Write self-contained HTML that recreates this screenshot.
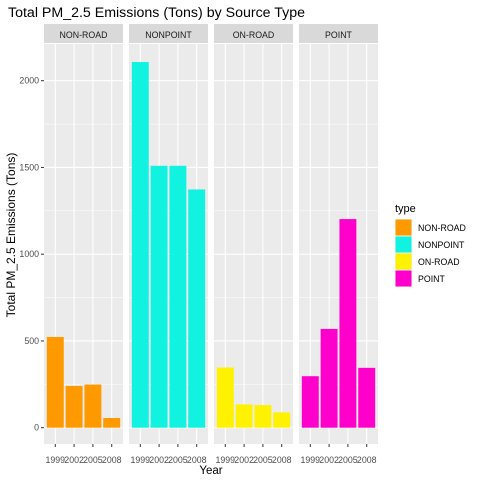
<!DOCTYPE html>
<html><head><meta charset="utf-8"><style>
body{margin:0;background:#fff;}
svg{display:block;font-family:"Liberation Sans",Arial,sans-serif;}
</style></head><body>
<svg id="chart" width="480" height="480" viewBox="0 0 480 480">
<text x="8" y="17" font-size="14.2" fill="#000">Total PM_2.5 Emissions (Tons) by Source Type</text>
<text transform="translate(15,235) rotate(-90)" text-anchor="middle" font-size="12" fill="#000">Total PM_2.5 Emissions (Tons)</text>
<text x="211" y="474" text-anchor="middle" font-size="11.5" fill="#000">Year</text>
<g id="panels"></g>
<g id="legend">
<text x="395" y="212" font-size="11" fill="#000">type</text>
</g>
</svg>
<script>
const facets = ["NON-ROAD","NONPOINT","ON-ROAD","POINT"];
const years = ["1999","2002","2005","2008"];
const nonRoad = [522.94, 240.85, 248.93, 55.82];
const nonPoint = [2107.63, 1509.5, 1509.5, 1373.21];
const onRoad = [346.82, 134.31, 130.43, 88.28];
const point = [296.8, 569.26, 1202.49, 344.98];
const yTicks = [0, 500, 1000, 1500, 2000];
const colors = ["#FF9900","#11F2E0","#FFF200","#FF00CC"];
const series = [nonRoad, nonPoint, onRoad, point];

const NS="http://www.w3.org/2000/svg";
function mk(tag, attrs, parent){const e=document.createElementNS(NS,tag);for(const k in attrs)e.setAttribute(k,attrs[k]);parent.appendChild(e);return e;}
const panelTop=44, panelBot=444, panelW=79, stripTop=24;
const y0=427.7, pxPerUnit=(427.7-80.7)/2000;
function yScale(v){return y0 - v*pxPerUnit;}
const unit=panelW/4.2;
function xScale(px,i){return px + (0.6+i)*unit;}
const g=document.getElementById('panels');
facets.forEach((f,pi)=>{
  const px=44+pi*85;
  const pg=mk('g',{},g);
  
  
  const strip=mk('rect',{x:px,y:stripTop,width:panelW,height:panelTop-stripTop-1,fill:'#D9D9D9'},pg);
  
  
  const st=mk('text',{x:px+panelW/2,y:38,'text-anchor':'middle','font-size':'8.8',fill:'#1A1A1A'},pg);
  st.textContent=f;
  
  
  mk('rect',{x:px,y:panelTop,width:panelW,height:panelBot-panelTop,fill:'#EBEBEB'},pg);
  for(let v=250; v<2200; v+=500){mk('line',{x1:px,x2:px+panelW,y1:yScale(v),y2:yScale(v),stroke:'#fff','stroke-width':0.5},pg);}
  yTicks.forEach(v=>{mk('line',{x1:px,x2:px+panelW,y1:yScale(v),y2:yScale(v),stroke:'#fff','stroke-width':1.1},pg);});
  years.forEach((yr,i)=>{
    const cx=xScale(px,i);
    mk('line',{x1:cx,x2:cx,y1:panelTop,y2:panelBot,stroke:'#fff','stroke-width':1.1},pg);
    mk('line',{x1:cx,x2:cx,y1:panelBot,y2:panelBot+3,stroke:'#333','stroke-width':1},pg);
    const t=mk('text',{x:cx,y:463,'text-anchor':'middle','font-size':'8.8',fill:'#4D4D4D'},pg);
    t.textContent=yr;
    
    
  });
  series[pi].forEach((v,i)=>{
    const cx=xScale(px,i), w=0.9*unit;
    const b=mk('rect',{x:cx-w/2,y:yScale(v),width:w,height:yScale(0)-yScale(v),fill:colors[pi]},pg);
    
    
  });
});
yTicks.forEach(v=>{
  mk('line',{x1:41,x2:44,y1:yScale(v),y2:yScale(v),stroke:'#333','stroke-width':1},g);
  const t=mk('text',{x:39,y:yScale(v)+3,'text-anchor':'end','font-size':'8.8',fill:'#4D4D4D'},g);
  t.textContent=v;
  
  
});
const lg=document.getElementById('legend');
facets.forEach((f,i)=>{
  const y=219+i*17;
  mk('rect',{x:395,y:y,width:17,height:17,fill:'#F2F2F2'},lg);
  const k=mk('rect',{x:395.5,y:y+0.5,width:16,height:16,fill:colors[i]},lg);
  
  
  const t=mk('text',{x:418,y:y+12,'font-size':'8.8',fill:'#000'},lg);
  t.textContent=f;
  
  
});
</script>
</body></html>
